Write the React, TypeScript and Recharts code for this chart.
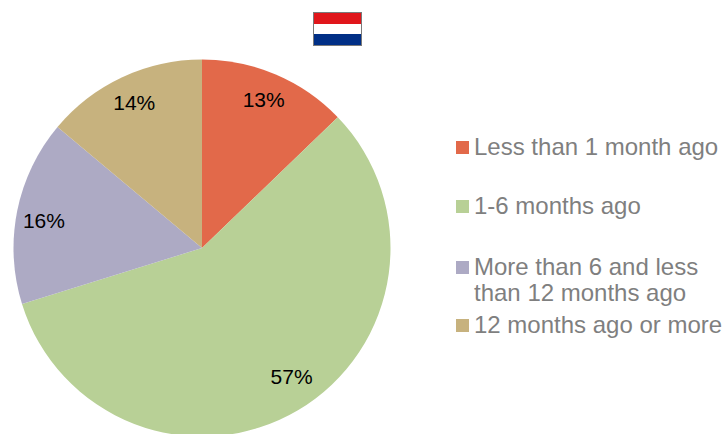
import { PieChart, Pie, Cell, Legend } from "recharts";

const categories = [
  "Less than 1 month ago",
  "1-6 months ago",
  "More than 6 and less than 12 months ago",
  "12 months ago or more",
];
const shares = [12.8, 57.4, 15.9, 13.9];
const COLORS = ["#e2694a", "#b8d096", "#adaac4", "#c7b27e"];
const data = categories.map((name, i) => ({ name, value: shares[i] }));

// legend rows are unevenly spaced in the original
const ROW_TOPS = [134, 193, 254, 312];
// hand placed data labels, the 57% one sits well off the ring
const LABEL_NUDGE = [
  [-1, -1],
  [8, -9],
  [-1, 4],
  [0, 0],
];
const RAD = Math.PI / 180;

function renderLabel({ cx, cy, midAngle, outerRadius, value, index }: any) {
  const r = outerRadius * 0.85;
  return (
    <text
      x={cx + r * Math.cos(-midAngle * RAD) + LABEL_NUDGE[index][0]}
      y={cy + r * Math.sin(-midAngle * RAD) + LABEL_NUDGE[index][1]}
      textAnchor="middle"
      dominantBaseline="central"
      fill="#000"
      fontSize={21}
      fontFamily="Liberation Sans"
    >
      {Math.round(value)}%
    </text>
  );
}

function renderLegend({ payload }: any) {
  return (
    <div style={{ position: "relative", width: 269, height: 434 }}>
      {payload.map((entry: any, i: number) => (
        <div key={entry.value} style={{ position: "absolute", left: 0, top: ROW_TOPS[i], display: "flex" }}>
          <span style={{ width: 13, height: 13, marginTop: 7, marginRight: 5, background: COLORS[i], flex: "none" }} />
          <span style={{ color: "#7f7f7f", fontSize: 24, lineHeight: "26px", width: 250 }}>{entry.value}</span>
        </div>
      ))}
    </div>
  );
}

function Flag() {
  return (
    <div style={{ position: "absolute", left: 313, top: 12, width: 47, height: 32, border: "1px solid #7a7a7a" }}>
      <div style={{ height: 11, background: "#e0161b" }} />
      <div style={{ height: 10, background: "#ffffff" }} />
      <div style={{ height: 11, background: "#002f86" }} />
    </div>
  );
}

export default function App() {
  return (
    <div style={{ position: "absolute", left: 0, top: 0, width: 725, height: 434, overflow: "hidden", background: "#fff", fontFamily: "Liberation Sans" }}>
      <PieChart width={725} height={434} margin={{ top: 0, right: 0, bottom: 0, left: 0 }}>
        <Pie
          data={data}
          dataKey="value"
          nameKey="name"
          cx={202}
          cy={248}
          outerRadius={188.5}
          startAngle={90}
          endAngle={-270}
          stroke="none"
          label={renderLabel}
          labelLine={false}
          isAnimationActive={false}
        >
          {data.map((entry, index) => (
            <Cell key={`cell-${index}`} fill={COLORS[index]} />
          ))}
        </Pie>
        <Legend
          content={renderLegend}
          itemSorter={null}
          layout="vertical"
          wrapperStyle={{ position: "absolute", left: 456, top: 0, width: 269, height: 434, bottom: "auto" }}
        />
      </PieChart>
      <Flag />
    </div>
  );
}
